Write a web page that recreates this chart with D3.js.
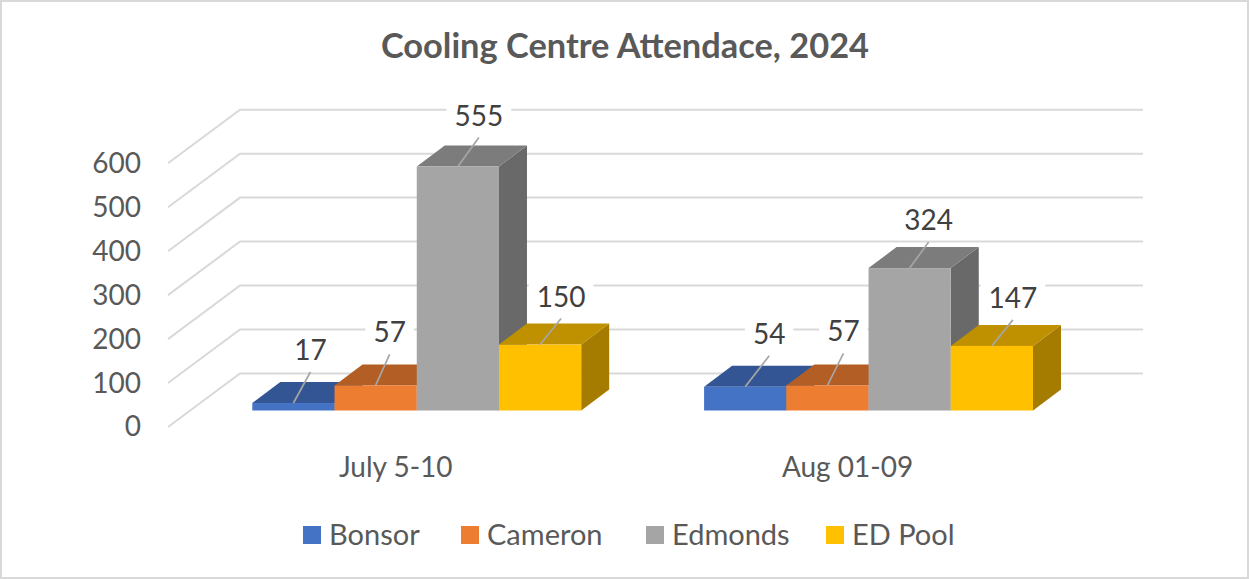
<!DOCTYPE html>
<html>
<head>
<meta charset="utf-8">
<script src="https://cdn.jsdelivr.net/npm/d3@7"></script>
<style>
  html, body { margin: 0; padding: 0; background: #fff; }
  svg { display: block; font-family: Lato, "Open Sans", sans-serif; }
</style>
</head>
<body>
<div id="chart"></div>
<script>
const categories = ["July 5-10", "Aug 01-09"];
const seriesNames = ["Bonsor", "Cameron", "Edmonds", "ED Pool"];
const bonsor = [17, 54];
const cameron = [57, 57];
const edmonds = [555, 324];
const edPool = [150, 147];
const seriesValues = [bonsor, cameron, edmonds, edPool];
const tickValues = [0, 100, 200, 300, 400, 500, 600];

const colors = ["#4472C4", "#ED7D31", "#A5A5A5", "#FFC000"];
const topColors = ["#335593", "#B35E25", "#7C7C7C", "#BF9000"];
const sideColors = ["#294574", "#A65121", "#696969", "#A67C00"];

// where each data label sits relative to its bar (by series, then category)
const labelDx = [[17, 24], [14, 16], [21, 19], [21, 21]];
const labelDy = [[31, 31], [31, 32], [29, 26], [26, 26]];

const W = 1249, H = 579;
const depthX = 28, depthY = -21;   // bar depth
const wallX = 72, wallY = -53.6;   // floor depth

const svg = d3.select("#chart").append("svg").attr("width", W).attr("height", H);

svg.append("rect")
  .attr("x", 1).attr("y", 1)
  .attr("width", W - 2).attr("height", H - 2)
  .attr("fill", "#fff")
  .attr("stroke", "#d9d9d9")
  .attr("stroke-width", 2);

svg.append("text")
  .attr("x", 625).attr("y", 58)
  .attr("text-anchor", "middle")
  .attr("font-size", 34.4)
  .attr("font-weight", 700)
  .attr("fill", "#595959")
  .text("Cooling Centre Attendace, 2024");

const y = d3.scaleLinear().domain([0, 600]).range([427, 163.3]);
const barBase = 410.5;
const barH = d => y(0) - y(d);

const x0 = d3.scaleBand().domain(categories).range([252.3, 1033]).paddingInner(0.272);
const x1 = d3.scaleBand().domain(seriesNames).range([0, x0.bandwidth()]);

// gridlines: up the side wall, then along the back wall
const grid = svg.append("g");
tickValues.forEach(t => {
  const p = d3.path();
  p.moveTo(168, y(t));
  p.lineTo(168 + wallX, y(t) + wallY);
  p.lineTo(1143, y(t) + wallY);
  grid.append("path")
    .attr("d", p.toString())
    .attr("fill", "none")
    .attr("stroke", "#d9d9d9")
    .attr("stroke-width", 2);
});

// axes
const yAxis = svg.append("g")
  .attr("transform", "translate(141,0)")
  .call(d3.axisLeft(y).tickValues(tickValues).tickSize(0).tickPadding(0));
yAxis.select(".domain").remove();
yAxis.selectAll("text")
  .attr("font-family", "Lato, 'Open Sans', sans-serif")
  .attr("font-size", 28)
  .attr("fill", "#595959");

const xAxis = svg.append("g")
  .attr("transform", "translate(-21,457)")
  .call(d3.axisBottom(x0).tickSize(0).tickPadding(0));
xAxis.select(".domain").remove();
xAxis.selectAll("text")
  .attr("font-family", "Lato, 'Open Sans', sans-serif")
  .attr("font-size", 28)
  .attr("fill", "#595959");

// bars, left to right so each one overlaps the one before
function poly(pts) { return pts.map(p => p.join(",")).join(" "); }

const bars = svg.append("g");
categories.forEach((c, ci) => {
  seriesNames.forEach((s, si) => {
    const v = seriesValues[si][ci];
    const bx = x0(c) + x1(s), bw = x1.bandwidth();
    const top = barBase - barH(v);
    bars.append("polygon")
      .attr("points", poly([[bx + bw, barBase], [bx + bw + depthX, barBase + depthY],
        [bx + bw + depthX, top + depthY], [bx + bw, top]]))
      .attr("fill", sideColors[si]);
    bars.append("polygon")
      .attr("points", poly([[bx, top], [bx + depthX, top + depthY],
        [bx + bw + depthX, top + depthY], [bx + bw, top]]))
      .attr("fill", topColors[si]);
    bars.append("rect")
      .attr("x", bx).attr("y", top)
      .attr("width", bw).attr("height", barH(v))
      .attr("fill", colors[si]);
  });
});

// data labels with white backing and leader lines
const labels = svg.append("g");
categories.forEach((c, ci) => {
  seriesNames.forEach((s, si) => {
    const v = seriesValues[si][ci];
    const cx = x0(c) + x1(s) + x1.bandwidth() / 2;
    const top = barBase - barH(v);
    const lx = cx + labelDx[si][ci], ly = top - labelDy[si][ci];
    const bg = labels.append("rect").attr("fill", "#fff");
    const txt = labels.append("text")
      .attr("x", lx).attr("y", ly - 12)
      .attr("text-anchor", "middle")
      .attr("font-size", 28)
      .attr("fill", "#404040")
      .text(v);
    const b = txt.node().getBBox();
    bg.attr("x", b.x - 8).attr("y", ly - 38)
      .attr("width", b.width + 16).attr("height", 36);
    labels.append("line")
      .attr("x1", cx).attr("y1", top)
      .attr("x2", lx).attr("y2", ly)
      .attr("stroke", "#a6a6a6")
      .attr("stroke-width", 1.7);
  });
});

// legend
const legendX = [303, 461, 646, 826];
const legend = svg.append("g");
seriesNames.forEach((s, i) => {
  legend.append("rect")
    .attr("x", legendX[i]).attr("y", 526)
    .attr("width", 18).attr("height", 18)
    .attr("fill", colors[i]);
  legend.append("text")
    .attr("x", legendX[i] + 26).attr("y", 545)
    .attr("font-size", 29)
    .attr("fill", "#595959")
    .text(s);
});
</script>
</body>
</html>
